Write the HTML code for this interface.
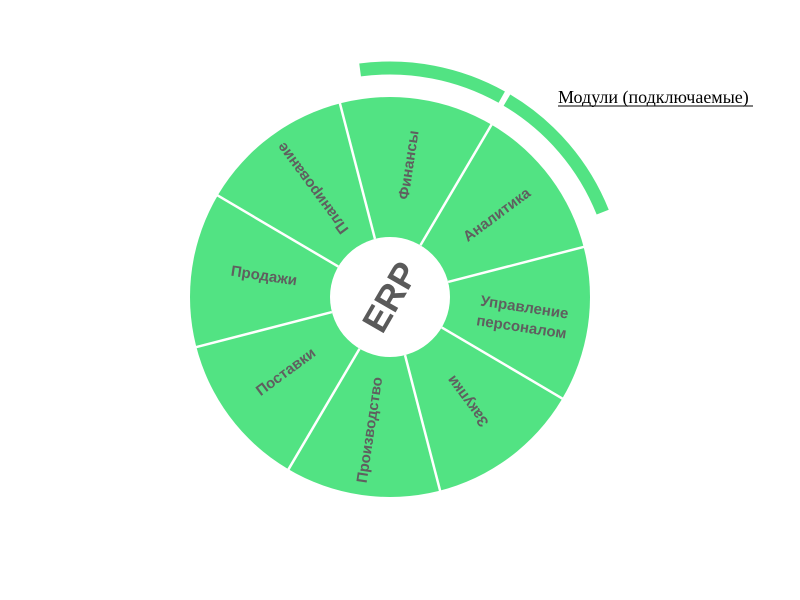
<!DOCTYPE html>
<html><head><meta charset="utf-8"><style>
html,body{margin:0;padding:0;background:#fff;width:800px;height:600px;overflow:hidden}
</style></head><body>
<svg width="800" height="600" xmlns="http://www.w3.org/2000/svg">
<g transform="rotate(-97.5 390 297)">
<circle cx="390" cy="297" r="229" fill="none" stroke="#52e383" stroke-width="13" stroke-dasharray="146.7 6 150 1200"/>
</g>
<circle cx="390" cy="297" r="200" fill="#52e383"/>
<g stroke="#fff" stroke-width="2.5">
<line x1="390" y1="237" x2="390" y2="96" transform="rotate(-14.5 390 297)"/>
<line x1="390" y1="237" x2="390" y2="96" transform="rotate(30.5 390 297)"/>
<line x1="390" y1="237" x2="390" y2="96" transform="rotate(75.5 390 297)"/>
<line x1="390" y1="237" x2="390" y2="96" transform="rotate(120.5 390 297)"/>
<line x1="390" y1="237" x2="390" y2="96" transform="rotate(165.5 390 297)"/>
<line x1="390" y1="237" x2="390" y2="96" transform="rotate(210.5 390 297)"/>
<line x1="390" y1="237" x2="390" y2="96" transform="rotate(255.5 390 297)"/>
<line x1="390" y1="237" x2="390" y2="96" transform="rotate(300.5 390 297)"/>
</g>
<circle cx="390" cy="297" r="60" fill="#fff"/>
<g font-family="Liberation Sans, sans-serif" font-weight="bold" font-size="15" fill="#5f5f5f" text-anchor="middle" dominant-baseline="central">
<text transform="translate(409,165) rotate(-81.5)">Финансы</text>
<text transform="translate(497,215) rotate(-36.5)">Аналитика</text>
<text transform="translate(523,317) rotate(8.5)"><tspan x="0" y="-10">Управление</tspan><tspan x="0" y="10">персоналом</tspan></text>
<text transform="translate(468,401) rotate(233.5)">Закупки</text>
<text transform="translate(370,430) rotate(-81.5)">Производство</text>
<text transform="translate(286,372) rotate(-36.5)">Поставки</text>
<text transform="translate(264,276) rotate(8.5)">Продажи</text>
<text transform="translate(313,188) rotate(233.5)">Планирование</text>
<text transform="translate(390,297) rotate(-60)" font-size="36" fill="#5a5a5a">ERP</text>
</g>
<text x="558" y="103" font-family="Liberation Serif, serif" font-size="18" fill="#000">Модули (подключаемые)</text>
<line x1="558" y1="106" x2="753" y2="106" stroke="#000" stroke-width="1"/>
</svg>
</body></html>
